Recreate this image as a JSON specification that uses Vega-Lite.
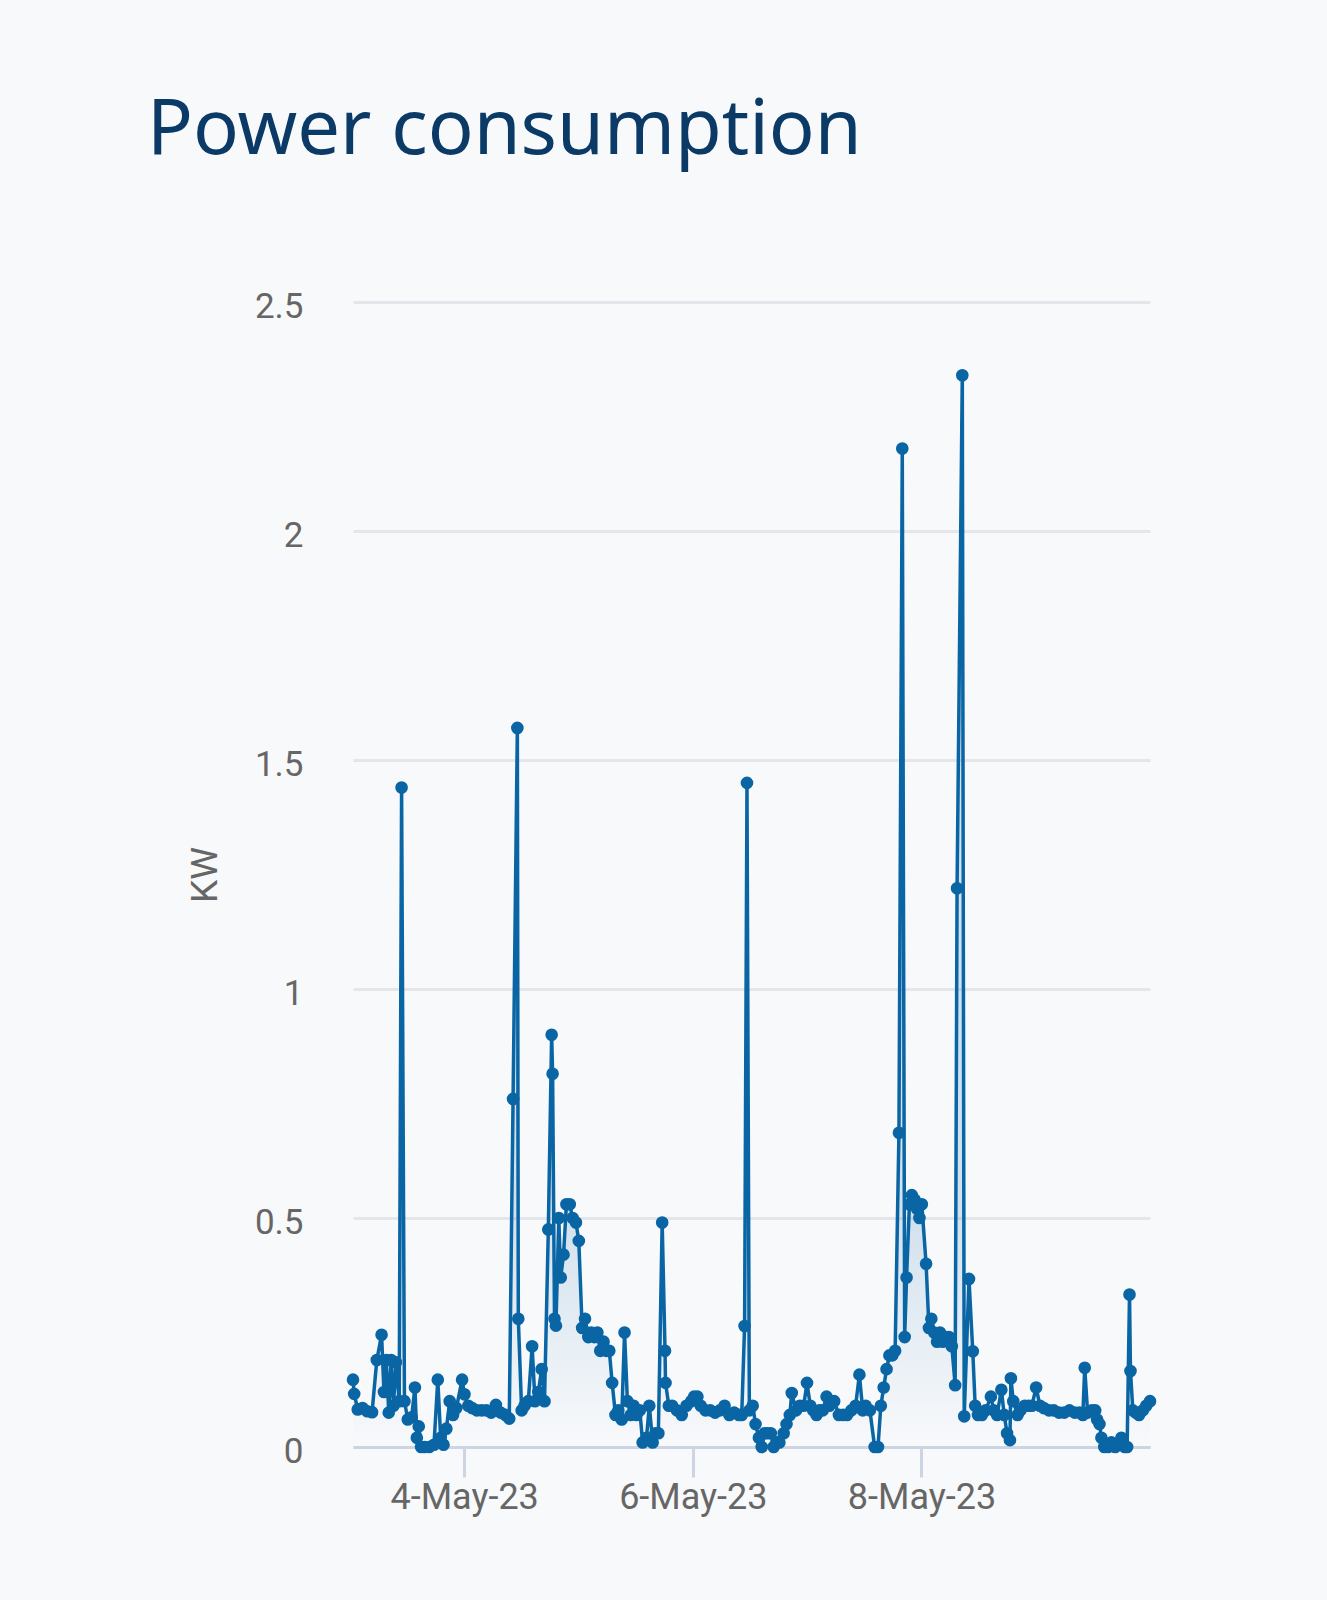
{
  "$schema": "https://vega.github.io/schema/vega-lite/v6.json",
  "autosize": "none",
  "width": 797,
  "height": 1145,
  "padding": {"left": 353, "top": 302, "right": 177, "bottom": 153},
  "background": "#f8f9fb",
  "title": {
    "text": "Power consumption",
    "anchor": "start",
    "frame": "group",
    "font": "Noto Sans",
    "fontSize": 76,
    "fontWeight": "normal",
    "color": "#0b3a67",
    "dx": -206,
    "offset": 119
  },
  "data": {
    "values": [
      {"time": "2023-05-03T00:40", "kw": 0.147},
      {"time": "2023-05-03T00:55", "kw": 0.116},
      {"time": "2023-05-03T01:40", "kw": 0.082},
      {"time": "2023-05-03T02:40", "kw": 0.085},
      {"time": "2023-05-03T03:40", "kw": 0.078},
      {"time": "2023-05-03T04:40", "kw": 0.076},
      {"time": "2023-05-03T05:40", "kw": 0.19},
      {"time": "2023-05-03T06:40", "kw": 0.245},
      {"time": "2023-05-03T07:10", "kw": 0.12},
      {"time": "2023-05-03T07:40", "kw": 0.19},
      {"time": "2023-05-03T08:10", "kw": 0.075},
      {"time": "2023-05-03T08:40", "kw": 0.19},
      {"time": "2023-05-03T09:10", "kw": 0.09},
      {"time": "2023-05-03T09:40", "kw": 0.185},
      {"time": "2023-05-03T10:22", "kw": 0.1},
      {"time": "2023-05-03T10:52", "kw": 1.44},
      {"time": "2023-05-03T11:28", "kw": 0.1},
      {"time": "2023-05-03T12:10", "kw": 0.06},
      {"time": "2023-05-03T12:58", "kw": 0.065},
      {"time": "2023-05-03T13:40", "kw": 0.13},
      {"time": "2023-05-03T14:04", "kw": 0.02},
      {"time": "2023-05-03T14:28", "kw": 0.045},
      {"time": "2023-05-03T14:58", "kw": 0.0},
      {"time": "2023-05-03T15:40", "kw": 0.0},
      {"time": "2023-05-03T16:40", "kw": 0.0},
      {"time": "2023-05-03T17:40", "kw": 0.005},
      {"time": "2023-05-03T18:28", "kw": 0.147},
      {"time": "2023-05-03T19:04", "kw": 0.02},
      {"time": "2023-05-03T19:40", "kw": 0.005},
      {"time": "2023-05-03T20:16", "kw": 0.04},
      {"time": "2023-05-03T20:58", "kw": 0.1},
      {"time": "2023-05-03T21:40", "kw": 0.07},
      {"time": "2023-05-03T22:22", "kw": 0.085},
      {"time": "2023-05-03T23:34", "kw": 0.147},
      {"time": "2023-05-04T00:04", "kw": 0.115},
      {"time": "2023-05-04T00:52", "kw": 0.09},
      {"time": "2023-05-04T01:40", "kw": 0.085},
      {"time": "2023-05-04T02:40", "kw": 0.08},
      {"time": "2023-05-04T03:40", "kw": 0.08},
      {"time": "2023-05-04T04:40", "kw": 0.08},
      {"time": "2023-05-04T05:40", "kw": 0.075},
      {"time": "2023-05-04T06:40", "kw": 0.092},
      {"time": "2023-05-04T07:40", "kw": 0.075},
      {"time": "2023-05-04T08:40", "kw": 0.07},
      {"time": "2023-05-04T09:28", "kw": 0.062},
      {"time": "2023-05-04T10:16", "kw": 0.76},
      {"time": "2023-05-04T11:10", "kw": 1.57},
      {"time": "2023-05-04T11:22", "kw": 0.28},
      {"time": "2023-05-04T12:04", "kw": 0.08},
      {"time": "2023-05-04T12:40", "kw": 0.09},
      {"time": "2023-05-04T13:28", "kw": 0.1},
      {"time": "2023-05-04T14:16", "kw": 0.22},
      {"time": "2023-05-04T14:52", "kw": 0.1},
      {"time": "2023-05-04T15:34", "kw": 0.12},
      {"time": "2023-05-04T16:16", "kw": 0.17},
      {"time": "2023-05-04T16:52", "kw": 0.1},
      {"time": "2023-05-04T17:40", "kw": 0.475},
      {"time": "2023-05-04T18:22", "kw": 0.9},
      {"time": "2023-05-04T18:34", "kw": 0.815},
      {"time": "2023-05-04T18:58", "kw": 0.28},
      {"time": "2023-05-04T19:16", "kw": 0.265},
      {"time": "2023-05-04T19:52", "kw": 0.5},
      {"time": "2023-05-04T20:16", "kw": 0.37},
      {"time": "2023-05-04T20:52", "kw": 0.42},
      {"time": "2023-05-04T21:28", "kw": 0.53},
      {"time": "2023-05-04T22:10", "kw": 0.53},
      {"time": "2023-05-04T22:46", "kw": 0.5},
      {"time": "2023-05-04T23:28", "kw": 0.49},
      {"time": "2023-05-05T00:04", "kw": 0.45},
      {"time": "2023-05-05T00:46", "kw": 0.26},
      {"time": "2023-05-05T01:22", "kw": 0.28},
      {"time": "2023-05-05T02:04", "kw": 0.24},
      {"time": "2023-05-05T02:40", "kw": 0.25},
      {"time": "2023-05-05T03:22", "kw": 0.24},
      {"time": "2023-05-05T03:58", "kw": 0.25},
      {"time": "2023-05-05T04:34", "kw": 0.21},
      {"time": "2023-05-05T05:16", "kw": 0.23},
      {"time": "2023-05-05T05:52", "kw": 0.21},
      {"time": "2023-05-05T06:28", "kw": 0.21},
      {"time": "2023-05-05T07:04", "kw": 0.14},
      {"time": "2023-05-05T07:46", "kw": 0.07},
      {"time": "2023-05-05T08:22", "kw": 0.08},
      {"time": "2023-05-05T09:04", "kw": 0.06},
      {"time": "2023-05-05T09:40", "kw": 0.25},
      {"time": "2023-05-05T10:16", "kw": 0.1},
      {"time": "2023-05-05T10:58", "kw": 0.07},
      {"time": "2023-05-05T11:34", "kw": 0.09},
      {"time": "2023-05-05T12:10", "kw": 0.07},
      {"time": "2023-05-05T12:52", "kw": 0.08},
      {"time": "2023-05-05T13:28", "kw": 0.01},
      {"time": "2023-05-05T14:16", "kw": 0.02},
      {"time": "2023-05-05T14:52", "kw": 0.09},
      {"time": "2023-05-05T15:34", "kw": 0.01},
      {"time": "2023-05-05T16:10", "kw": 0.03},
      {"time": "2023-05-05T16:46", "kw": 0.03},
      {"time": "2023-05-05T17:34", "kw": 0.49},
      {"time": "2023-05-05T18:10", "kw": 0.21},
      {"time": "2023-05-05T18:16", "kw": 0.14},
      {"time": "2023-05-05T18:58", "kw": 0.09},
      {"time": "2023-05-05T19:40", "kw": 0.09},
      {"time": "2023-05-05T20:40", "kw": 0.08},
      {"time": "2023-05-05T21:40", "kw": 0.07},
      {"time": "2023-05-05T22:40", "kw": 0.09},
      {"time": "2023-05-05T23:40", "kw": 0.1},
      {"time": "2023-05-06T00:16", "kw": 0.11},
      {"time": "2023-05-06T00:58", "kw": 0.11},
      {"time": "2023-05-06T01:40", "kw": 0.09},
      {"time": "2023-05-06T02:40", "kw": 0.08},
      {"time": "2023-05-06T03:40", "kw": 0.08},
      {"time": "2023-05-06T04:40", "kw": 0.075},
      {"time": "2023-05-06T05:40", "kw": 0.08},
      {"time": "2023-05-06T06:40", "kw": 0.09},
      {"time": "2023-05-06T07:40", "kw": 0.07},
      {"time": "2023-05-06T08:40", "kw": 0.075},
      {"time": "2023-05-06T09:40", "kw": 0.07},
      {"time": "2023-05-06T10:16", "kw": 0.07},
      {"time": "2023-05-06T10:52", "kw": 0.264},
      {"time": "2023-05-06T11:22", "kw": 1.45},
      {"time": "2023-05-06T11:52", "kw": 0.08},
      {"time": "2023-05-06T12:34", "kw": 0.09},
      {"time": "2023-05-06T13:10", "kw": 0.05},
      {"time": "2023-05-06T13:52", "kw": 0.02},
      {"time": "2023-05-06T14:28", "kw": 0.0},
      {"time": "2023-05-06T15:04", "kw": 0.03},
      {"time": "2023-05-06T15:40", "kw": 0.03},
      {"time": "2023-05-06T16:22", "kw": 0.03},
      {"time": "2023-05-06T16:58", "kw": 0.0},
      {"time": "2023-05-06T17:34", "kw": 0.01},
      {"time": "2023-05-06T18:10", "kw": 0.01},
      {"time": "2023-05-06T19:04", "kw": 0.03},
      {"time": "2023-05-06T19:40", "kw": 0.05},
      {"time": "2023-05-06T20:22", "kw": 0.07},
      {"time": "2023-05-06T20:46", "kw": 0.118},
      {"time": "2023-05-06T21:40", "kw": 0.08},
      {"time": "2023-05-06T22:28", "kw": 0.09},
      {"time": "2023-05-06T23:16", "kw": 0.09},
      {"time": "2023-05-06T23:58", "kw": 0.14},
      {"time": "2023-05-07T00:40", "kw": 0.09},
      {"time": "2023-05-07T01:16", "kw": 0.08},
      {"time": "2023-05-07T01:58", "kw": 0.07},
      {"time": "2023-05-07T02:34", "kw": 0.08},
      {"time": "2023-05-07T03:16", "kw": 0.08},
      {"time": "2023-05-07T04:04", "kw": 0.11},
      {"time": "2023-05-07T04:40", "kw": 0.09},
      {"time": "2023-05-07T05:40", "kw": 0.1},
      {"time": "2023-05-07T06:40", "kw": 0.07},
      {"time": "2023-05-07T07:34", "kw": 0.07},
      {"time": "2023-05-07T08:22", "kw": 0.07},
      {"time": "2023-05-07T09:16", "kw": 0.08},
      {"time": "2023-05-07T10:10", "kw": 0.09},
      {"time": "2023-05-07T10:58", "kw": 0.158},
      {"time": "2023-05-07T11:40", "kw": 0.08},
      {"time": "2023-05-07T12:16", "kw": 0.09},
      {"time": "2023-05-07T13:10", "kw": 0.08},
      {"time": "2023-05-07T14:10", "kw": 0.0},
      {"time": "2023-05-07T14:52", "kw": 0.0},
      {"time": "2023-05-07T15:28", "kw": 0.09},
      {"time": "2023-05-07T16:04", "kw": 0.13},
      {"time": "2023-05-07T16:40", "kw": 0.17},
      {"time": "2023-05-07T17:16", "kw": 0.2},
      {"time": "2023-05-07T17:52", "kw": 0.2},
      {"time": "2023-05-07T18:28", "kw": 0.21},
      {"time": "2023-05-07T19:16", "kw": 0.686},
      {"time": "2023-05-07T19:58", "kw": 2.18},
      {"time": "2023-05-07T20:28", "kw": 0.24},
      {"time": "2023-05-07T20:52", "kw": 0.37},
      {"time": "2023-05-07T21:28", "kw": 0.53},
      {"time": "2023-05-07T21:58", "kw": 0.55},
      {"time": "2023-05-07T22:34", "kw": 0.54},
      {"time": "2023-05-07T23:04", "kw": 0.52},
      {"time": "2023-05-07T23:34", "kw": 0.5},
      {"time": "2023-05-08T00:04", "kw": 0.53},
      {"time": "2023-05-08T00:58", "kw": 0.4},
      {"time": "2023-05-08T01:34", "kw": 0.26},
      {"time": "2023-05-08T02:04", "kw": 0.28},
      {"time": "2023-05-08T02:40", "kw": 0.25},
      {"time": "2023-05-08T03:16", "kw": 0.23},
      {"time": "2023-05-08T03:52", "kw": 0.25},
      {"time": "2023-05-08T04:28", "kw": 0.23},
      {"time": "2023-05-08T05:10", "kw": 0.24},
      {"time": "2023-05-08T05:46", "kw": 0.24},
      {"time": "2023-05-08T06:22", "kw": 0.22},
      {"time": "2023-05-08T07:04", "kw": 0.135},
      {"time": "2023-05-08T07:28", "kw": 1.22},
      {"time": "2023-05-08T08:34", "kw": 2.34},
      {"time": "2023-05-08T08:58", "kw": 0.067},
      {"time": "2023-05-08T09:58", "kw": 0.367},
      {"time": "2023-05-08T10:46", "kw": 0.209},
      {"time": "2023-05-08T11:16", "kw": 0.09},
      {"time": "2023-05-08T11:52", "kw": 0.07},
      {"time": "2023-05-08T12:40", "kw": 0.07},
      {"time": "2023-05-08T13:28", "kw": 0.08},
      {"time": "2023-05-08T14:34", "kw": 0.11},
      {"time": "2023-05-08T15:10", "kw": 0.08},
      {"time": "2023-05-08T15:52", "kw": 0.07},
      {"time": "2023-05-08T16:46", "kw": 0.125},
      {"time": "2023-05-08T17:22", "kw": 0.07},
      {"time": "2023-05-08T17:58", "kw": 0.03},
      {"time": "2023-05-08T18:34", "kw": 0.015},
      {"time": "2023-05-08T18:46", "kw": 0.15},
      {"time": "2023-05-08T19:16", "kw": 0.1},
      {"time": "2023-05-08T20:10", "kw": 0.07},
      {"time": "2023-05-08T20:46", "kw": 0.08},
      {"time": "2023-05-08T21:40", "kw": 0.09},
      {"time": "2023-05-08T22:28", "kw": 0.09},
      {"time": "2023-05-08T23:10", "kw": 0.09},
      {"time": "2023-05-09T00:04", "kw": 0.13},
      {"time": "2023-05-09T00:52", "kw": 0.09},
      {"time": "2023-05-09T01:40", "kw": 0.085},
      {"time": "2023-05-09T02:46", "kw": 0.08},
      {"time": "2023-05-09T03:46", "kw": 0.08},
      {"time": "2023-05-09T04:52", "kw": 0.075},
      {"time": "2023-05-09T05:58", "kw": 0.075},
      {"time": "2023-05-09T07:04", "kw": 0.08},
      {"time": "2023-05-09T08:10", "kw": 0.075},
      {"time": "2023-05-09T09:10", "kw": 0.075},
      {"time": "2023-05-09T09:52", "kw": 0.07},
      {"time": "2023-05-09T10:16", "kw": 0.173},
      {"time": "2023-05-09T10:52", "kw": 0.075},
      {"time": "2023-05-09T11:46", "kw": 0.08},
      {"time": "2023-05-09T12:28", "kw": 0.08},
      {"time": "2023-05-09T12:52", "kw": 0.06},
      {"time": "2023-05-09T13:22", "kw": 0.05},
      {"time": "2023-05-09T13:46", "kw": 0.02},
      {"time": "2023-05-09T14:22", "kw": 0.0},
      {"time": "2023-05-09T15:10", "kw": 0.0},
      {"time": "2023-05-09T15:52", "kw": 0.01},
      {"time": "2023-05-09T16:40", "kw": 0.0},
      {"time": "2023-05-09T17:34", "kw": 0.01},
      {"time": "2023-05-09T17:58", "kw": 0.02},
      {"time": "2023-05-09T18:40", "kw": 0.0},
      {"time": "2023-05-09T19:10", "kw": 0.0},
      {"time": "2023-05-09T19:40", "kw": 0.333},
      {"time": "2023-05-09T19:52", "kw": 0.166},
      {"time": "2023-05-09T20:22", "kw": 0.08},
      {"time": "2023-05-09T20:58", "kw": 0.075},
      {"time": "2023-05-09T21:40", "kw": 0.07},
      {"time": "2023-05-09T22:28", "kw": 0.08},
      {"time": "2023-05-09T23:10", "kw": 0.09},
      {"time": "2023-05-09T23:58", "kw": 0.1}
    ]
  },
  "encoding": {
    "x": {
      "field": "time",
      "type": "temporal",
      "scale": {"nice": false},
      "axis": {
        "title": null,
        "grid": false,
        "values": [
          {"year": 2023, "month": 5, "date": 4},
          {"year": 2023, "month": 5, "date": 6},
          {"year": 2023, "month": 5, "date": 8}
        ],
        "format": "%-d-%b-%y",
        "domainColor": "#cdd4e3",
        "domainWidth": 3,
        "tickColor": "#cdd4e3",
        "tickWidth": 3,
        "tickSize": 30,
        "labelFont": "Roboto",
        "labelFontSize": 36,
        "labelColor": "#666666",
        "labelPadding": 3
      }
    },
    "y": {
      "field": "kw",
      "type": "quantitative",
      "scale": {"domain": [0, 2.5], "nice": false},
      "axis": {
        "title": "KW",
        "values": [0, 0.5, 1, 1.5, 2, 2.5],
        "format": "~g",
        "domain": false,
        "ticks": false,
        "gridColor": "#e4e6eb",
        "gridWidth": 3,
        "labelPadding": 50,
        "labelFont": "Roboto",
        "labelFontSize": 35,
        "labelColor": "#666666",
        "labelOffset": 4,
        "titleFont": "Roboto",
        "titleFontSize": 37,
        "titleFontWeight": "normal",
        "titleColor": "#666666",
        "titlePadding": 30
      }
    }
  },
  "layer": [
    {
      "mark": {
        "type": "area",
        "color": {
          "gradient": "linear",
          "x1": 0, "y1": 1, "x2": 0, "y2": 0,
          "stops": [
            {"offset": 0, "color": "rgba(10,101,165,0)"},
            {"offset": 0.22, "color": "rgba(10,101,165,0.16)"},
            {"offset": 1, "color": "rgba(10,101,165,0.16)"}
          ]
        }
      }
    },
    {
      "mark": {
        "type": "line",
        "color": "#0a65a5",
        "strokeWidth": 3.5,
        "point": {"filled": true, "size": 160, "color": "#0a65a5", "opacity": 1}
      }
    }
  ],
  "config": {
    "view": {"stroke": null}
  }
}
